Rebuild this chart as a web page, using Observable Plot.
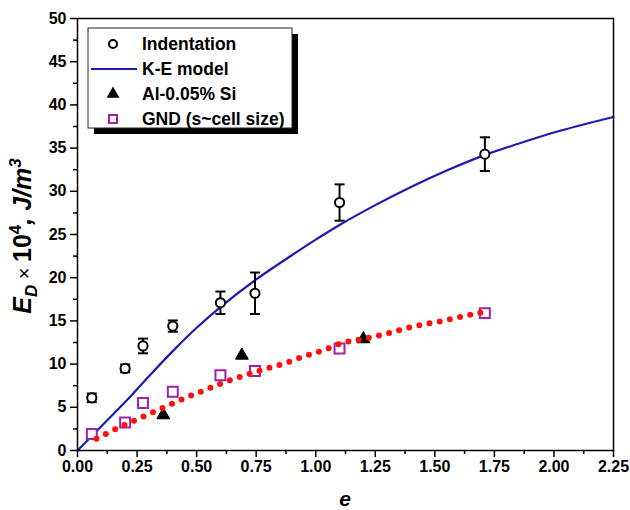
<!DOCTYPE html>
<html>
<head>
<meta charset="utf-8">
<script src="https://cdn.jsdelivr.net/npm/d3@7"></script>
<script src="https://cdn.jsdelivr.net/npm/@observablehq/plot@0.6"></script>
<style>
  html, body { margin: 0; padding: 0; background: white; }
  #chart { width: 630px; height: 510px; }
</style>
</head>
<body>
<div id="chart"></div>
<script>
// ---- data ----
const xTicks = [0, 0.25, 0.5, 0.75, 1.0, 1.25, 1.5, 1.75, 2.0, 2.25];
const xMinor = [0.125, 0.375, 0.625, 0.875, 1.125, 1.375, 1.625, 1.875, 2.125];
const yTicks = [0, 5, 10, 15, 20, 25, 30, 35, 40, 45, 50];
const yMinor = [2.5, 7.5, 12.5, 17.5, 22.5, 27.5, 32.5, 37.5, 42.5, 47.5];

// Indentation (open circles, with error bars)
const eInd   = [0.06, 0.2, 0.275, 0.4, 0.6, 0.745, 1.1, 1.71];
const edInd  = [6.1, 9.5, 12.1, 14.4, 17.1, 18.2, 28.7, 34.3];
const errInd = [0.5, 0.45, 0.85, 0.65, 1.3, 2.4, 2.1, 1.95];

// K-E model (blue curve)
const eKE  = [0, 0.1, 0.2, 0.3, 0.4, 0.5, 0.6, 0.75, 0.9, 1.0, 1.1, 1.25, 1.4, 1.55, 1.7, 1.85, 2.0, 2.25];
const edKE = [0, 2.8, 5.6, 8.6, 11.5, 14.2, 16.6, 19.8, 22.6, 24.4, 26.1, 28.4, 30.5, 32.4, 34.1, 35.5, 36.8, 38.6];

// Al-0.05% Si (filled triangles)
const eAl  = [0.36, 0.69, 1.2];
const edAl = [4.1, 11.0, 12.9];

// GND (s~cell size) (open purple squares)
const eGND  = [0.06, 0.2, 0.275, 0.4, 0.6, 0.745, 1.1, 1.71];
const edGND = [1.9, 3.25, 5.5, 6.8, 8.7, 9.2, 11.8, 15.9];

// red dotted trend
const eFit  = [0.08, 0.2, 0.28, 0.37, 0.45, 0.53, 0.61, 0.70, 0.78, 0.87, 0.95, 1.03, 1.11, 1.20, 1.28, 1.37, 1.45, 1.54, 1.63, 1.70];
const edFit = [1.35, 3.0, 3.97, 5.09, 6.06, 6.94, 7.83, 8.68, 9.37, 10.1, 10.9, 11.57, 12.42, 12.93, 13.39, 14.08, 14.58, 15.05, 15.6, 16.0];

const legendLabels = ["Indentation", "K-E model", "Al-0.05% Si", "GND (s~cell size)"];

// ---- tables ----
const ind = eInd.map((e, i) => ({e, v: edInd[i], lo: edInd[i] - errInd[i], hi: edInd[i] + errInd[i]}));
const ke = eKE.map((e, i) => ({e, v: edKE[i]}));
const al = eAl.map((e, i) => ({e, v: edAl[i]}));
const gnd = eGND.map((e, i) => ({e, v: edGND[i]}));
const fit = eFit.map((e, i) => ({e, v: edFit[i]}));

const capSymbol = {draw(ctx) { ctx.moveTo(-5, 0); ctx.lineTo(5, 0); }};
const BLUE = "#1c1cb0", PURPLE = "#a020a8", RED = "#ff1010";

const chart = Plot.plot({
  width: 630, height: 510,
  marginLeft: 77, marginRight: 17, marginTop: 18, marginBottom: 60,
  x: {domain: [0, 2.25]},
  y: {domain: [0, 50]},
  style: {fontFamily: "'Liberation Sans', Arial, sans-serif", fontSize: "16px", fontWeight: "bold", color: "black", background: "white"},
  marks: [
    Plot.axisX({ticks: xTicks, tickSize: 7, tickPadding: 3, strokeWidth: 1.5, tickFormat: d => d.toFixed(2), label: null, fontSize: 16}),
    Plot.axisX({ticks: xMinor, tickSize: 4, strokeWidth: 1.5, tickFormat: () => "", label: null}),
    Plot.axisY({ticks: yTicks, tickSize: 7, tickPadding: 4, strokeWidth: 1.5, tickFormat: d => String(d), label: null, fontSize: 16}),
    Plot.axisY({ticks: yMinor, tickSize: 4, strokeWidth: 1.5, tickFormat: () => "", label: null}),
    Plot.line(ke, {x: "e", y: "v", stroke: BLUE, strokeWidth: 2.2, curve: "monotone-x"}),
    Plot.ruleX(ind, {x: "e", y1: "lo", y2: "hi", stroke: "black", strokeWidth: 2}),
    Plot.dot(ind, {x: "e", y: "lo", symbol: capSymbol, stroke: "black", strokeWidth: 2}),
    Plot.dot(ind, {x: "e", y: "hi", symbol: capSymbol, stroke: "black", strokeWidth: 2}),
    Plot.dot(ind, {x: "e", y: "v", r: 4.6, stroke: "black", fill: "white", strokeWidth: 2}),
    Plot.dot(gnd, {x: "e", y: "v", symbol: "square", r: 5.6, stroke: PURPLE, fill: "white", strokeWidth: 2}),
    Plot.dot(al, {x: "e", y: "v", symbol: "triangle", r: 4.8, fill: "black", stroke: "black", strokeWidth: 1}),
    Plot.line(fit, {x: "e", y: "v", stroke: RED, strokeWidth: 6, strokeDasharray: "0 10.4", strokeLinecap: "round", curve: "monotone-x"}),
    Plot.frame({stroke: "black", strokeWidth: 1.5})
  ]
});
document.getElementById("chart").appendChild(chart);

// ---- axis titles and legend ----
const svg = d3.select(chart);
const font = "'Liberation Sans', Arial, sans-serif";

const yl = svg.append("text")
  .attr("transform", "translate(31,236) rotate(-90)")
  .attr("text-anchor", "middle")
  .attr("font-family", font).attr("font-size", 25).attr("font-weight", "bold").attr("font-style", "italic")
  .attr("fill", "black");
yl.append("tspan").text("E");
yl.append("tspan").attr("font-size", 17).attr("dy", 6).text("D");
yl.append("tspan").attr("dy", -6).attr("font-weight", "normal").attr("font-style", "normal").attr("font-size", 20).text(" × ");
yl.append("tspan").attr("font-style", "normal").text("10");
yl.append("tspan").attr("font-size", 17).attr("dy", -10).attr("font-style", "normal").text("4");
yl.append("tspan").attr("dy", 10).text(", J/m");
yl.append("tspan").attr("font-size", 17).attr("dy", -10).text("3");

svg.append("text")
  .attr("x", 345).attr("y", 506)
  .attr("text-anchor", "middle")
  .attr("font-family", font).attr("font-size", 21).attr("font-weight", "bold").attr("font-style", "italic")
  .attr("fill", "black").text("e");

const lg = svg.append("g").attr("text-anchor", "start");
lg.append("rect").attr("x", 94).attr("y", 34).attr("width", 204).attr("height", 100).attr("fill", "black");
lg.append("rect").attr("x", 88).attr("y", 28).attr("width", 204).attr("height", 100).attr("fill", "white").attr("stroke", "#222").attr("stroke-width", 1);
const rowY = [44, 69, 94, 119];
lg.append("circle").attr("cx", 113).attr("cy", rowY[0]).attr("r", 4).attr("fill", "white").attr("stroke", "black").attr("stroke-width", 2);
lg.append("line").attr("x1", 91).attr("x2", 137).attr("y1", rowY[1]).attr("y2", rowY[1]).attr("stroke", BLUE).attr("stroke-width", 2.2);
lg.append("path").attr("transform", `translate(113,${rowY[2]})`).attr("d", d3.symbol(d3.symbolTriangle, Math.PI * 4.8 * 4.8)()).attr("fill", "black");
lg.append("rect").attr("x", 109).attr("y", rowY[3] - 4).attr("width", 8).attr("height", 8).attr("fill", "white").attr("stroke", PURPLE).attr("stroke-width", 2);
legendLabels.forEach((t, i) => {
  lg.append("text").attr("x", 142).attr("y", rowY[i]).attr("dy", "0.36em").attr("text-anchor", "start")
    .attr("font-family", font).attr("font-size", 17.5).attr("font-weight", "bold").attr("fill", "black").text(t);
});
</script>
</body>
</html>
